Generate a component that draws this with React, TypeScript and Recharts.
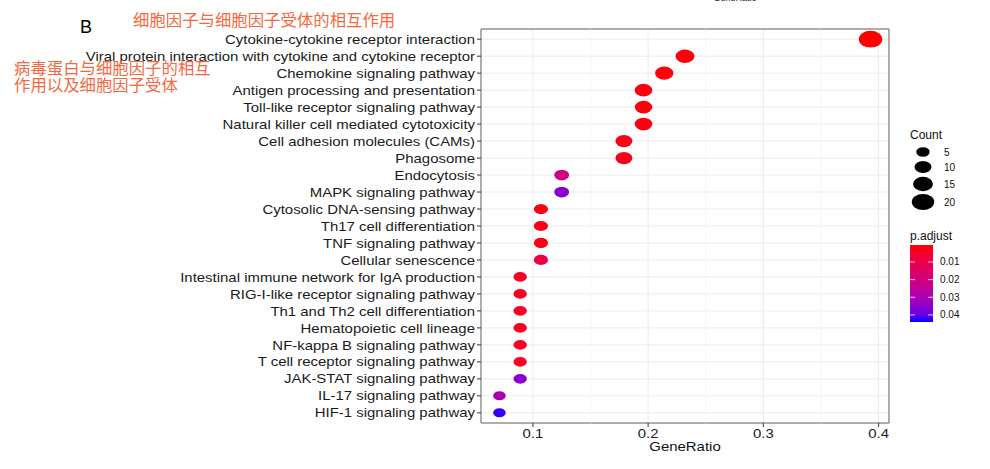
import React from "react"
import { ScatterChart, Scatter, XAxis, YAxis, CartesianGrid, ReferenceLine, ReferenceArea } from "recharts"

const pathways = [
  "Cytokine-cytokine receptor interaction",
  "Viral protein interaction with cytokine and cytokine receptor",
  "Chemokine signaling pathway",
  "Antigen processing and presentation",
  "Toll-like receptor signaling pathway",
  "Natural killer cell mediated cytotoxicity",
  "Cell adhesion molecules (CAMs)",
  "Phagosome",
  "Endocytosis",
  "MAPK signaling pathway",
  "Cytosolic DNA-sensing pathway",
  "Th17 cell differentiation",
  "TNF signaling pathway",
  "Cellular senescence",
  "Intestinal immune network for IgA production",
  "RIG-I-like receptor signaling pathway",
  "Th1 and Th2 cell differentiation",
  "Hematopoietic cell lineage",
  "NF-kappa B signaling pathway",
  "T cell receptor signaling pathway",
  "JAK-STAT signaling pathway",
  "IL-17 signaling pathway",
  "HIF-1 signaling pathway",
]

const geneRatio = [
  0.393, 0.232, 0.214, 0.196, 0.196, 0.196, 0.179, 0.179, 0.125, 0.125, 0.107, 0.107,
  0.107, 0.107, 0.089, 0.089, 0.089, 0.089, 0.089, 0.089, 0.089, 0.071, 0.071,
]

const counts = [22, 13, 12, 11, 11, 11, 10, 10, 7, 7, 6, 6, 6, 6, 5, 5, 5, 5, 5, 5, 5, 4, 4]

const pAdjust = [
  0.0004, 0.001, 0.001, 0.0015, 0.0015, 0.0015, 0.002, 0.003, 0.02, 0.036, 0.002, 0.002,
  0.002, 0.009, 0.004, 0.004, 0.004, 0.004, 0.004, 0.004, 0.036, 0.03, 0.043,
]

const xTicks = [0.1, 0.2, 0.3, 0.4]
const xMinorGrid = [0.15, 0.25, 0.35]
const countLegend = [5, 10, 15, 20]
const pLegend = [0.01, 0.02, 0.03, 0.04]

const X_DOMAIN = [0.055, 0.409]
const Y_DOMAIN = [-0.6, pathways.length - 0.4]
const P_MIN = 0.0004
const P_MAX = 0.044

const FONT = "'Liberation Sans', Arial, Helvetica, sans-serif"
const CJK = "'Noto Sans CJK SC', 'Noto Sans', sans-serif"
const NOTE = "#f4683f"
// the source image is stretched sideways, text included
const STRETCH = 1.15

// red -> blue gradient interpolated in Lab, like ggplot's scale_colour_gradient
function srgbToLin(c: number) {
  c = c / 255
  return c <= 0.04045 ? c / 12.92 : Math.pow((c + 0.055) / 1.055, 2.4)
}
function linToSrgb(c: number) {
  c = Math.max(0, Math.min(1, c))
  const v = c <= 0.0031308 ? 12.92 * c : 1.055 * Math.pow(c, 1 / 2.4) - 0.055
  return Math.round(v * 255)
}
function toLab([r, g, b]: number[]) {
  const R = srgbToLin(r), G = srgbToLin(g), B = srgbToLin(b)
  const X = (0.4124 * R + 0.3576 * G + 0.1805 * B) / 0.95047
  const Y = 0.2126 * R + 0.7152 * G + 0.0722 * B
  const Z = (0.0193 * R + 0.1192 * G + 0.9505 * B) / 1.08883
  const f = (t: number) => (t > 0.008856 ? Math.cbrt(t) : 7.787 * t + 16 / 116)
  const fx = f(X), fy = f(Y), fz = f(Z)
  return [116 * fy - 16, 500 * (fx - fy), 200 * (fy - fz)]
}
function fromLab([L, a, b]: number[]) {
  const fy = (L + 16) / 116
  const fx = fy + a / 500
  const fz = fy - b / 200
  const inv = (t: number) => (t * t * t > 0.008856 ? t * t * t : (t - 16 / 116) / 7.787)
  const X = inv(fx) * 0.95047, Y = inv(fy), Z = inv(fz) * 1.08883
  const R = 3.2406 * X - 1.5372 * Y - 0.4986 * Z
  const G = -0.9689 * X + 1.8758 * Y + 0.0415 * Z
  const B = 0.0557 * X - 0.204 * Y + 1.057 * Z
  return `rgb(${linToSrgb(R)},${linToSrgb(G)},${linToSrgb(B)})`
}
const LAB_LOW = toLab([255, 0, 0])
const LAB_HIGH = toLab([0, 0, 255])
function pColor(p: number) {
  const t = Math.max(0, Math.min(1, (p - P_MIN) / (P_MAX - P_MIN)))
  return fromLab(LAB_LOW.map((v, i) => v + (LAB_HIGH[i] - v) * t))
}

// point size (horizontal radius)
const rx = (c: number) => Math.sqrt(18 + 5.4 * c)
const ASPECT = 0.72

const data = pathways.map((name, i) => ({
  name,
  x: geneRatio[i],
  y: pathways.length - 1 - i,
  count: counts[i],
  p: pAdjust[i],
}))

const Dot = (props: any) => {
  const { cx, cy, payload } = props
  if (cx == null || cy == null) return null
  const r = rx(payload.count)
  return <ellipse cx={cx} cy={cy} rx={r} ry={r * ASPECT} fill={pColor(payload.p)} />
}

const YTick = (props: any) => {
  const { x, y, payload } = props
  return (
    <g transform={`translate(${x},${y}) scale(${STRETCH},1)`}>
      <text textAnchor="end" dy="0.355em" fontSize={13} fill="#1a1a1a" fontFamily={FONT}>
        {pathways[pathways.length - 1 - payload.value]}
      </text>
    </g>
  )
}

const XTick = (props: any) => {
  const { x, y, payload } = props
  return (
    <g transform={`translate(${x},${y}) scale(${STRETCH},1)`}>
      <text textAnchor="middle" dy="0.72em" fontSize={13} fill="#222" fontFamily={FONT}>
        {payload.value}
      </text>
    </g>
  )
}

const XLabel = (props: any) => {
  const { viewBox } = props
  const cx = viewBox.x + viewBox.width / 2
  return (
    <g transform={`translate(${cx},${viewBox.y + 28}) scale(${STRETCH},1)`}>
      <text textAnchor="middle" fontSize={13} fill="#111" fontFamily={FONT}>GeneRatio</text>
    </g>
  )
}

function Overlay() {
  const barTop = 245
  const barH = 77
  const countY = [152, 167, 184, 202]
  const stops = Array.from({ length: 11 }, (_, k) => k / 10)
  return (
    <svg width={990} height={469} style={{ position: "absolute", left: 0, top: 0, pointerEvents: "none" }}>
      <defs>
        <linearGradient id="pgrad" x1="0" y1="0" x2="0" y2="1">
          {stops.map((t) => (
            <stop key={t} offset={t} stopColor={pColor(P_MIN + t * (P_MAX - P_MIN))} />
          ))}
        </linearGradient>
      </defs>
      <text x={735} y={1} fontSize={9} fontFamily={FONT} fill="#222" textAnchor="middle">GeneRatio</text>
      <text x={80} y={33} fontSize={18} fontFamily={FONT} fill="#000">B</text>
      <text x={133} y={26} fontSize={16.4} fontFamily={CJK} fill={NOTE}>细胞因子与细胞因子受体的相互作用</text>
      <text x={14} y={74} fontSize={16.4} fontFamily={CJK} fill={NOTE}>病毒蛋白与细胞因子的相互</text>
      <text x={14} y={91} fontSize={16.4} fontFamily={CJK} fill={NOTE}>作用以及细胞因子受体</text>

      <text x={910} y={139} fontSize={12} fontFamily={FONT} fill="#111">Count</text>
      {countLegend.map((c, i) => (
        <g key={c}>
          <ellipse cx={923} cy={countY[i]} rx={rx(c)} ry={rx(c) * ASPECT} fill="#000" />
          <text x={944} y={countY[i] + 3.5} fontSize={10} fontFamily={FONT} fill="#111">{c}</text>
        </g>
      ))}

      <text x={910} y={240} fontSize={12} fontFamily={FONT} fill="#111">p.adjust</text>
      <rect x={910} y={barTop} width={23} height={barH} fill="url(#pgrad)" />
      {pLegend.map((v) => {
        const y = barTop + ((v - P_MIN) / (P_MAX - P_MIN)) * barH
        return (
          <g key={v}>
            <line x1={910} x2={915} y1={y} y2={y} stroke="#fff" strokeWidth={0.8} />
            <line x1={928} x2={933} y1={y} y2={y} stroke="#fff" strokeWidth={0.8} />
            <text x={940} y={y + 3.5} fontSize={10} fontFamily={FONT} fill="#111">{v}</text>
          </g>
        )
      })}
    </svg>
  )
}

export default function App() {
  return (
    <div style={{ position: "absolute", left: 0, top: 0, width: 990, height: 469, background: "#fff" }}>
      <ScatterChart
        width={990}
        height={469}
        margin={{ top: 29, right: 101, bottom: 6, left: 11 }}
        style={{ fontFamily: FONT }}
      >
        <CartesianGrid stroke="#ebebeb" strokeWidth={1} />
        {xMinorGrid.map((v) => (
          <ReferenceLine key={v} x={v} stroke="#f2f2f2" strokeWidth={0.8} />
        ))}
        <XAxis
          type="number"
          dataKey="x"
          domain={X_DOMAIN}
          ticks={xTicks}
          allowDataOverflow
          axisLine={false}
          tickSize={4}
          tickLine={{ stroke: "#333" }}
          tick={<XTick />}
          height={40}
          label={<XLabel />}
        />
        <YAxis
          type="number"
          dataKey="y"
          domain={Y_DOMAIN}
          ticks={data.map((d) => d.y)}
          interval={0}
          allowDataOverflow
          axisLine={false}
          tickSize={4}
          tickLine={{ stroke: "#333" }}
          tick={<YTick />}
          width={470}
        />
        <ReferenceArea
          x1={X_DOMAIN[0]}
          x2={X_DOMAIN[1]}
          y1={Y_DOMAIN[0]}
          y2={Y_DOMAIN[1]}
          fill="none"
          stroke="#666"
          strokeWidth={1}
        />
        <Scatter data={data} shape={Dot} isAnimationActive={false} />
      </ScatterChart>
      <Overlay />
    </div>
  )
}
